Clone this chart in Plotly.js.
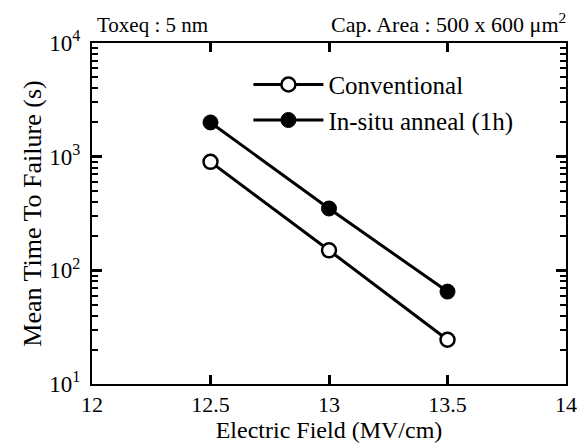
<!DOCTYPE html>
<html>
<head>
<meta charset="utf-8">
<script src="https://cdn.plot.ly/plotly-3.0.1.min.js"></script>
<style>html,body{margin:0;padding:0;background:#fff;}#chart{width:582px;height:443px;}</style>
</head>
<body>
<div id="chart"></div>
<script>
const field = [12.5, 13, 13.5];
const conventional = [900, 150, 24.5];
const insitu = [2000, 350, 65];
const seriesNames = ["Conventional", "In-situ anneal (1h)"];
const xTickVals = [12, 12.5, 13, 13.5, 14];
const yTickVals = [10, 100, 1000, 10000];
const yTickText = ["10<sup>1</sup>", "10<sup>2</sup>", "10<sup>3</sup>", "10<sup>4</sup>"];

const serif = "Liberation Serif, Times New Roman, serif";

const traces = [
  {
    x: field, y: conventional, name: seriesNames[0], type: "scatter", mode: "lines+markers",
    line: {color: "#000", width: 3},
    marker: {symbol: "circle", size: 14, color: "#fff", line: {color: "#000", width: 2.5}}
  },
  {
    x: field, y: insitu, name: seriesNames[1], type: "scatter", mode: "lines+markers",
    line: {color: "#000", width: 3},
    marker: {symbol: "circle", size: 15, color: "#000", line: {color: "#000", width: 1}}
  }
];

const layout = {
  width: 582, height: 443,
  margin: {l: 92, r: 16, t: 43, b: 59},
  paper_bgcolor: "white", plot_bgcolor: "rgba(0,0,0,0)",
  font: {family: serif, color: "black", size: 21},
  showlegend: true,
  legend: {
    x: 0.33, y: 0.945, xanchor: "left", yanchor: "top",
    bgcolor: "rgba(0,0,0,0)", font: {family: serif, size: 25, color: "black"},
    itemwidth: 70, tracegroupgap: 0
  },
  xaxis: {
    range: [12, 14], tickmode: "array", tickvals: xTickVals,
    showline: true, linecolor: "black", linewidth: 2, mirror: "allticks",
    ticks: "inside", ticklen: 9, tickwidth: 2.5, tickcolor: "black",
    showgrid: false, zeroline: false,
    tickfont: {family: serif, size: 22},
    title: {text: "Electric Field (MV/cm)", font: {family: serif, size: 24}, standoff: 0}
  },
  yaxis: {
    type: "log", range: [1, 4], tickmode: "array", tickvals: yTickVals, ticktext: yTickText,
    showline: true, linecolor: "black", linewidth: 2, mirror: "allticks",
    ticks: "inside", ticklen: 10, tickwidth: 2.5, tickcolor: "black",
    minor: {ticks: "inside", ticklen: 6, tickwidth: 2, tickcolor: "black", dtick: "D1", showgrid: false},
    showgrid: false, zeroline: false,
    tickfont: {family: serif, size: 23}, ticklabelstandoff: 5,
    title: {text: "Mean Time To Failure (s)", font: {family: serif, size: 26}, standoff: 0}
  },
  annotations: [
    {text: "Toxeq : 5 nm", xref: "paper", yref: "paper", x: 0.0, y: 1.0, xanchor: "left", yanchor: "bottom",
     yshift: 4, xshift: 3, showarrow: false, font: {family: serif, size: 21}},
    {text: "Cap. Area : 500 x 600 μm<sup>2</sup>", xref: "paper", yref: "paper", x: 1.0, y: 1.0, xanchor: "right", yanchor: "bottom",
     yshift: 4, xshift: 2, showarrow: false, font: {family: serif, size: 22}}
  ]
};

Plotly.newPlot("chart", traces, layout, {displayModeBar: false});
</script>
</body>
</html>
